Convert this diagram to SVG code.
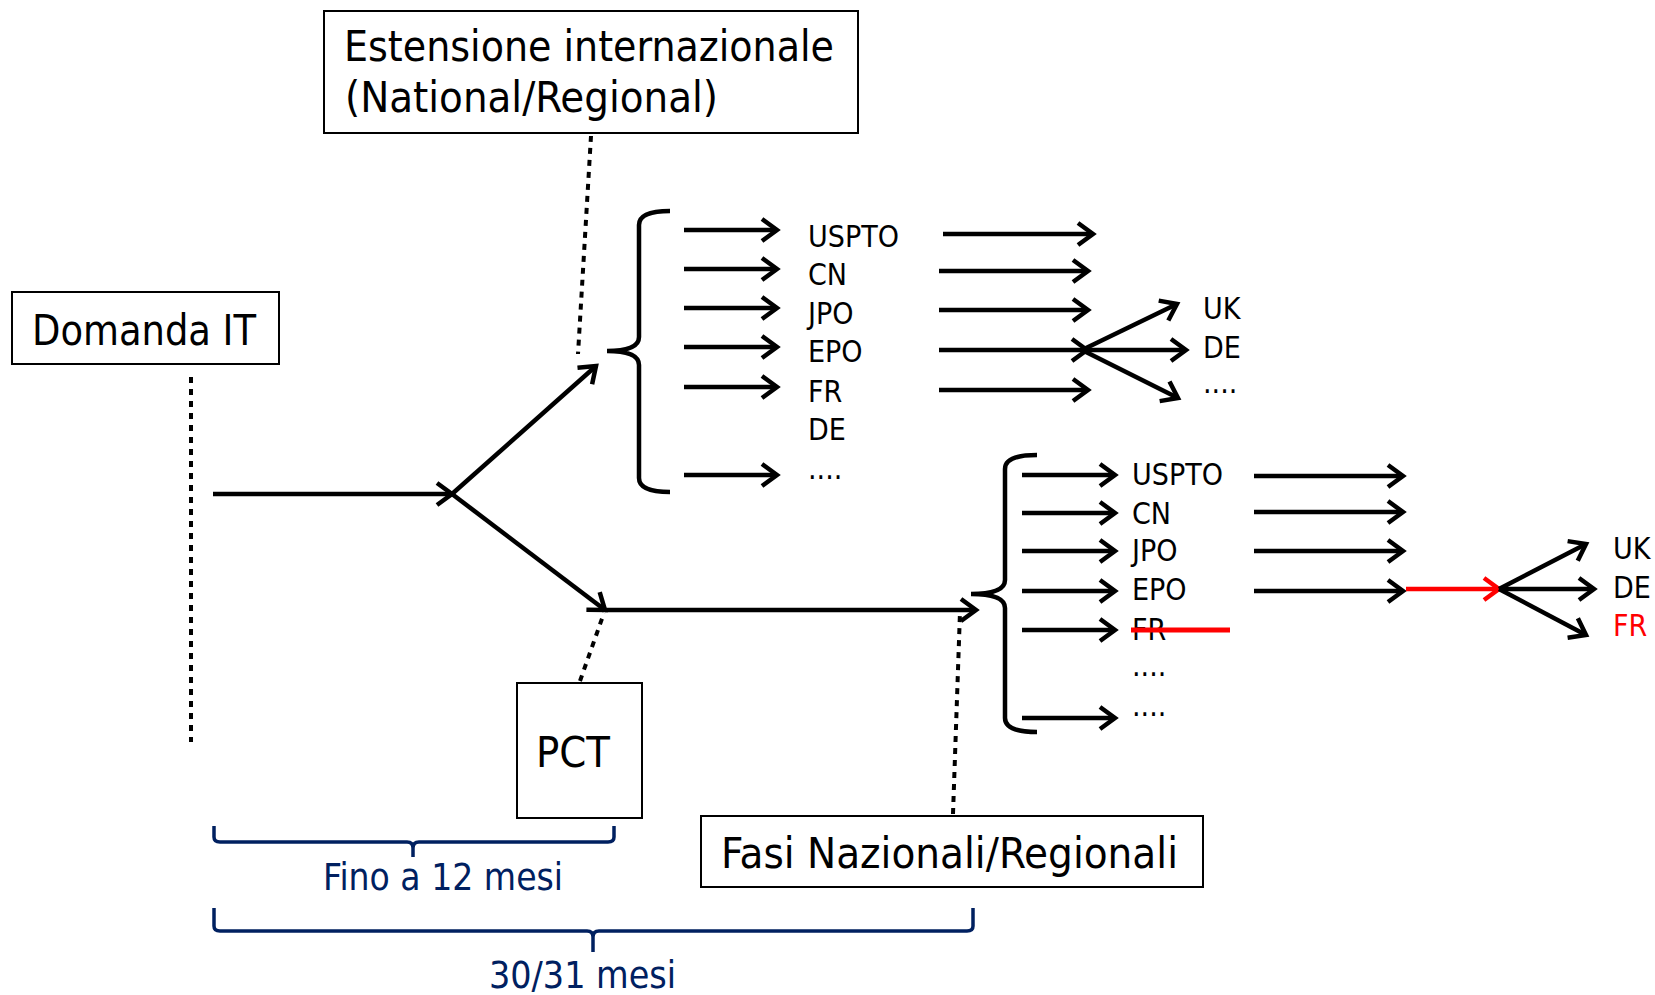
<svg xmlns="http://www.w3.org/2000/svg" width="1655" height="995" viewBox="0 0 1655 995">
<defs>
<style>
text{font-family:"DejaVu Sans Condensed","DejaVu Sans",sans-serif;font-stretch:condensed;fill:#000}
.box{fill:#fff;stroke:#000;stroke-width:2}
.big{font-size:42px}
.lbl{font-size:30px}
.blue{fill:#002060;font-size:37px}
.ar{fill:none;stroke:#000;stroke-width:4.5;marker-end:url(#ah)}
.arm{fill:none;stroke:#000;stroke-width:4.5;marker-end:url(#ah)}
.dot{fill:none;stroke:#000;stroke-width:4;stroke-dasharray:6 6}
.brace{fill:none;stroke:#000;stroke-width:4.5}
.bb{fill:none;stroke:#002060;stroke-width:3.5}
</style>
<marker id="ah" markerUnits="userSpaceOnUse" markerWidth="30" markerHeight="30" refX="0" refY="0" orient="auto" overflow="visible">
<path d="M-15,-11 L0,0 L-15,11" fill="none" stroke="#000" stroke-width="4.5"/>
</marker>
<marker id="ahr" markerUnits="userSpaceOnUse" markerWidth="30" markerHeight="30" refX="0" refY="0" orient="auto" overflow="visible">
<path d="M-15,-11 L0,0 L-15,11" fill="none" stroke="#f00" stroke-width="4.5"/>
</marker>
</defs>
<rect width="1655" height="995" fill="#fff"/>

<g id="connectors">
<line class="dot" x1="591" y1="136" x2="578" y2="354"/>
<line class="dot" x1="191" y1="377" x2="191" y2="742"/>
<line class="dot" x1="580" y1="681" x2="604" y2="613"/>
<line class="dot" x1="953" y1="814" x2="960" y2="612"/>
<line class="arm" x1="213" y1="494" x2="452" y2="494"/>
<line class="arm" x1="452" y1="494" x2="596" y2="366"/>
<line class="arm" x1="452" y1="494" x2="605" y2="610"/>
<line class="arm" x1="605" y1="610" x2="976" y2="610"/>
<!-- upper brace -->
<path class="brace" d="M670,211 Q639,211 639,225 L639,337 Q639,351 607,351 Q639,351 639,365 L639,478 Q639,492 670,492"/>
<line class="ar" x1="684" y1="230" x2="777" y2="230"/>
<line class="ar" x1="684" y1="269" x2="777" y2="269"/>
<line class="ar" x1="684" y1="308" x2="777" y2="308"/>
<line class="ar" x1="684" y1="347" x2="777" y2="347"/>
<line class="ar" x1="684" y1="387" x2="777" y2="387"/>
<line class="ar" x1="684" y1="475" x2="777" y2="475"/>
<line class="ar" x1="943" y1="234" x2="1093" y2="234"/>
<line class="ar" x1="939" y1="271" x2="1088" y2="271"/>
<line class="ar" x1="939" y1="310" x2="1088" y2="310"/>
<line class="ar" x1="939" y1="350" x2="1087" y2="350"/>
<line class="ar" x1="939" y1="390" x2="1088" y2="390"/>
<line class="arm" x1="1082" y1="350" x2="1177" y2="304"/>
<line class="arm" x1="1082" y1="350" x2="1186" y2="350"/>
<line class="arm" x1="1082" y1="350" x2="1178" y2="398"/>
<!-- lower brace -->
<path class="brace" d="M1037,455 Q1005,455 1005,469 L1005,580 Q1005,594 971,594 Q1005,594 1005,608 L1005,718 Q1005,732 1037,732"/>
<line class="ar" x1="1022" y1="475" x2="1115" y2="475"/>
<line class="ar" x1="1022" y1="513" x2="1115" y2="513"/>
<line class="ar" x1="1022" y1="551" x2="1115" y2="551"/>
<line class="ar" x1="1022" y1="591" x2="1115" y2="591"/>
<line class="ar" x1="1022" y1="630" x2="1115" y2="630"/>
<line class="ar" x1="1022" y1="718" x2="1115" y2="718"/>
<line class="ar" x1="1254" y1="476" x2="1403" y2="476"/>
<line class="ar" x1="1254" y1="512" x2="1403" y2="512"/>
<line class="ar" x1="1254" y1="551" x2="1403" y2="551"/>
<line class="ar" x1="1254" y1="591" x2="1403" y2="591"/>
<line x1="1406" y1="589" x2="1499" y2="589" fill="none" stroke="#f00" stroke-width="4.5" marker-end="url(#ahr)"/>
<line class="arm" x1="1499" y1="589" x2="1586" y2="544"/>
<line class="arm" x1="1499" y1="589" x2="1594" y2="589"/>
<line class="arm" x1="1499" y1="589" x2="1586" y2="635"/>
<!-- blue brackets -->
<path class="bb" d="M214,826 V837 Q214,842 220,842 H407 Q413,842 413,848 V857 M413,848 Q413,842 419,842 H608 Q614,842 614,837 V826"/>
<path class="bb" d="M214,908 V926 Q214,931 220,931 H587 Q593,931 593,937 V952 M593,937 Q593,931 599,931 H967 Q973,931 973,926 V908"/>
</g>

<g id="n-estensione">
<rect class="box" x="324" y="11" width="534" height="122"/>
<text class="big" x="344" y="61" textLength="490" lengthAdjust="spacingAndGlyphs">Estensione internazionale</text>
<text class="big" x="345" y="112" textLength="373" lengthAdjust="spacingAndGlyphs">(National/Regional)</text>
</g>
<g id="n-domanda">
<rect class="box" x="12" y="292" width="267" height="72"/>
<text class="big" x="32" y="345" textLength="224" lengthAdjust="spacingAndGlyphs">Domanda IT</text>
</g>
<g id="n-pct">
<rect class="box" x="517" y="683" width="125" height="135"/>
<text class="big" x="536" y="767" textLength="74" lengthAdjust="spacingAndGlyphs">PCT</text>
</g>
<g id="n-fasi">
<rect class="box" x="701" y="816" width="502" height="71"/>
<text class="big" x="721" y="868" textLength="457" lengthAdjust="spacingAndGlyphs">Fasi Nazionali/Regionali</text>
</g>
<g id="n-upper-list">
<text class="lbl" x="808" y="247">USPTO</text>
<text class="lbl" x="808" y="285">CN</text>
<text class="lbl" x="808" y="324">JPO</text>
<text class="lbl" x="808" y="362">EPO</text>
<text class="lbl" x="808" y="402">FR</text>
<text class="lbl" x="808" y="440">DE</text>
<text class="lbl" x="808" y="479">....</text>
<text class="lbl" x="1203" y="319">UK</text>
<text class="lbl" x="1203" y="358">DE</text>
<text class="lbl" x="1203" y="393">....</text>
</g>
<g id="n-lower-list">
<text class="lbl" x="1132" y="485">USPTO</text>
<text class="lbl" x="1132" y="524">CN</text>
<text class="lbl" x="1132" y="561">JPO</text>
<text class="lbl" x="1132" y="600">EPO</text>
<text class="lbl" x="1132" y="640">FR</text>
<line x1="1131" y1="630" x2="1230" y2="630" stroke="#f00" stroke-width="5"/>
<text class="lbl" x="1132" y="676">....</text>
<text class="lbl" x="1132" y="716">....</text>
<text class="lbl" x="1613" y="559">UK</text>
<text class="lbl" x="1613" y="598">DE</text>
<text class="lbl" x="1613" y="636" style="fill:#f00">FR</text>
</g>
<g id="n-brackets-labels">
<text class="blue" x="323" y="890" textLength="240" lengthAdjust="spacingAndGlyphs">Fino a 12 mesi</text>
<text class="blue" x="489" y="988" textLength="187" lengthAdjust="spacingAndGlyphs">30/31 mesi</text>
</g>
</svg>
